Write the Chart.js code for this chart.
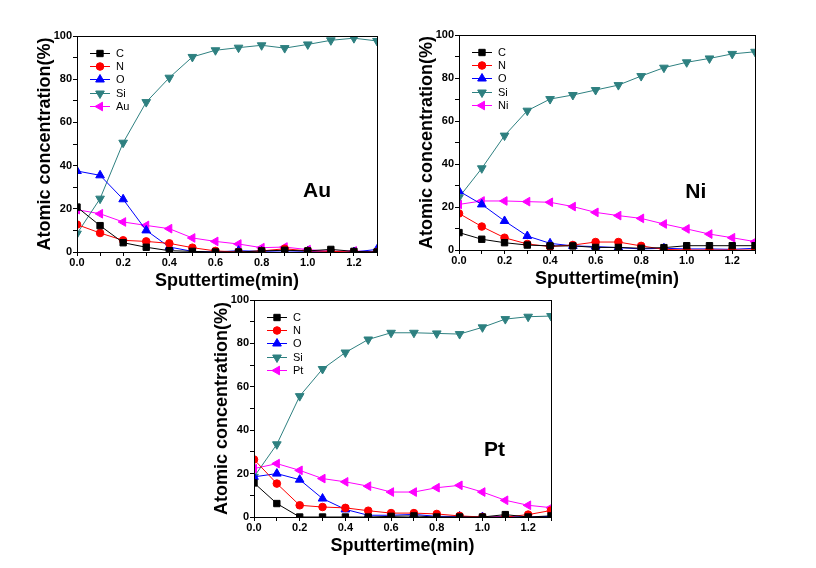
<!DOCTYPE html>
<html><head><meta charset="utf-8">
<script src="https://cdn.jsdelivr.net/npm/chart.js@4/dist/chart.umd.min.js"></script>
<style>
html,body{margin:0;padding:0;background:#fff;width:816px;height:568px;overflow:hidden;}
.panel{position:absolute;}
canvas{display:block;}
</style></head><body>
<div class="panel" id="pAu"><canvas id="cAu"></canvas></div>
<div class="panel" id="pNi"><canvas id="cNi"></canvas></div>
<div class="panel" id="pPt"><canvas id="cPt"></canvas></div>
<script>
// ---- data ----
const times = [0.0,0.1,0.2,0.3,0.4,0.5,0.6,0.7,0.8,0.9,1.0,1.1,1.2,1.3];
const elementNames = ['C','N','O','Si'];
const xTickLabels = ['0.0','0.2','0.4','0.6','0.8','1.0','1.2'];
const yTickLabels = [0,20,40,60,80,100];

// Au sample
const auC  = [20.8,12.2,4.3,2.2,0.6,0.3,0,0,0.5,0.8,0.5,1.2,0.3,0];
const auN  = [12.7,8.8,5.4,4.9,4.0,2.0,0.5,0,0.5,1.5,0.5,0.3,0,0];
const auO  = [37.5,35.5,24.4,10.0,2.3,0.3,0,0.6,0.3,0.5,0.3,0,0,1.2];
const auSi = [8.5,24.7,50.6,69.4,80.7,90.3,93.4,94.6,95.7,94.4,96.1,98.0,99.0,97.7];
const auAu = [19.6,17.7,13.9,12.3,10.8,6.5,4.9,3.7,2.0,2.3,1.1,0.3,0.5,0];

// Ni sample
const niC  = [8.1,5.0,3.4,2.3,1.9,1.9,1.2,1.2,0.8,1.1,2.0,2.0,2.0,2.0];
const niN  = [17.0,10.9,5.7,2.8,1.6,2.3,3.7,3.7,1.9,0.3,0,0,0,0];
const niO  = [27.4,21.2,13.5,6.5,3.1,1.9,1.6,1.1,0.5,0.8,0.5,0.5,0.3,0.8];
const niSi = [24.5,38.0,53.2,64.8,70.2,72.1,74.4,76.7,80.9,84.8,87.3,89.1,91.2,92.2];
const niNi = [21.2,22.8,22.8,22.5,22.2,20.2,17.5,16.0,14.7,12.1,9.8,7.4,5.7,3.9];

// Pt sample
const ptC  = [15.7,6.2,0,0,0,0,0.3,0.5,0,0,0,1.1,0,0.5];
const ptN  = [26.5,15.4,5.4,4.6,4.2,2.9,1.8,1.8,1.4,0.5,0,0,1.1,3.0];
const ptO  = [18.5,20.0,17.2,8.5,3.5,0.8,0.8,1.2,0.3,0.3,0,0.3,0,0.3];
const ptSi = [18.5,33.5,55.7,68.2,75.8,81.8,84.9,84.9,84.6,84.3,87.4,91.2,92.3,92.6];
const ptPt = [22.3,24.6,21.5,17.7,16.2,14.2,11.5,11.5,13.5,14.6,11.5,7.7,5.4,4.3];

// ---- styles ----
const seriesStyles = [
  {color:'#000000', pointStyle:'rect', radius:4.5, rotation:0},
  {color:'#FF0000', pointStyle:'circle', radius:3.8, rotation:0},
  {color:'#0000FF', pointStyle:'triangle', radius:5, rotation:0},
  {color:'#2E8080', pointStyle:'triangle', radius:5, rotation:180},
  {color:'#FF00FF', pointStyle:'triangle', radius:5, rotation:270}
];
const FONT = '"Liberation Sans", Arial, sans-serif';

const decor = {
  id:'decor',
  afterDatasetsDraw(chart){
    const {ctx, chartArea:a} = chart;
    const metal = chart.options.plugins.decor.metal;
    ctx.save();
    ctx.strokeStyle='#000'; ctx.lineWidth=1;
    ctx.strokeRect(Math.round(a.left)+0.5, Math.round(a.top)+0.5, Math.round(a.right-a.left), Math.round(a.bottom-a.top));
    chart.data.datasets.forEach((ds,i)=>{
      const y = Math.round(a.top + 17 + i*13.2);
      ctx.strokeStyle = ds.borderColor; ctx.fillStyle = ds.backgroundColor; ctx.lineWidth = 1;
      ctx.beginPath(); ctx.moveTo(a.left+13, y+0.5); ctx.lineTo(a.left+33, y+0.5); ctx.stroke();
      Chart.helpers.drawPoint(ctx, {pointStyle: ds.pointStyle, rotation: ds.pointRotation, radius: ds.pointRadius, borderWidth: 1}, a.left+23, y+0.5);
      ctx.fillStyle='#000'; ctx.font = '11px ' + FONT; ctx.textBaseline='middle'; ctx.textAlign='left';
      ctx.fillText(ds.label, a.left+39, y+0.5);
    });
    const pos = chart.options.plugins.decor.labelPos;
    ctx.font = 'bold 21px ' + FONT; ctx.textAlign='center'; ctx.textBaseline='middle'; ctx.fillStyle='#000';
    ctx.fillText(metal, a.left + pos[0]*(a.right-a.left), a.top + pos[1]*(a.bottom-a.top));
    ctx.restore();
  }
};

function makePanel(divId, canvasId, metal, series, geom, labelPos){
  const div = document.getElementById(divId);
  const cv = document.getElementById(canvasId);
  const W = 77 + geom.w + 12, H = 30 + geom.h + 45;
  div.style.left = (geom.left - 77) + 'px';
  div.style.top = (geom.top - 30) + 'px';
  cv.width = W; cv.height = H; cv.style.width = W+'px'; cv.style.height = H+'px';
  const labels = elementNames.concat([metal]);
  const datasets = series.map((vals,i)=>{
    const s = seriesStyles[i];
    return {
      label: labels[i],
      data: times.map((t,j)=>({x:t, y:vals[j]})),
      borderColor: s.color, backgroundColor: s.color,
      borderWidth: 1, pointStyle: s.pointStyle, pointRadius: s.radius,
      pointRotation: s.rotation, pointBorderWidth: 1, tension: 0
    };
  });
  new Chart(cv, {
    type:'line',
    data:{datasets},
    plugins:[decor],
    options:{
      responsive:false, animation:false, devicePixelRatio:1,
      layout:{padding:{top:30,right:12,bottom:0,left:0}},
      plugins:{legend:{display:false}, tooltip:{enabled:false}, decor:{metal, labelPos}},
      scales:{
        x:{
          type:'linear', min:0, max:1.3,
          afterFit(s){ s.height = 45; },
          border:{display:true,color:'#000',width:1},
          grid:{drawOnChartArea:false, drawTicks:true, tickLength:4, color:'#000'},
          ticks:{stepSize:0.1, autoSkip:false, maxRotation:0, padding:0, color:'#000',
            font:{family:FONT, size:11, weight:'bold'},
            callback(v){ const k = Math.round(v*10); return (k%2===0) ? xTickLabels[k/2] : ''; }},
          title:{display:true, text:'Sputtertime(min)', color:'#000',
            font:{family:FONT, size:18, weight:'bold'}, padding:{top:0,bottom:5}}
        },
        y:{
          type:'linear', min:0, max:100,
          afterFit(s){ s.width = 77; },
          border:{display:true,color:'#000',width:1},
          grid:{drawOnChartArea:false, drawTicks:true, tickLength:4, color:'#000'},
          ticks:{stepSize:10, padding:1, color:'#000',
            font:{family:FONT, size:11, weight:'bold'},
            callback(v){ const k = Math.round(v); return (k%20===0) ? String(yTickLabels[k/20]) : ''; }},
          title:{display:true, text:'Atomic concentration(%)', color:'#000',
            font:{family:FONT, size:18, weight:'bold'}, padding:{top:34,bottom:0}}
        }
      }
    }
  });
}

makePanel('pAu','cAu','Au',[auC,auN,auO,auSi,auAu],{left:77,top:36,w:300,h:216},[0.80,0.72]);
makePanel('pNi','cNi','Ni',[niC,niN,niO,niSi,niNi],{left:459,top:35,w:296,h:215},[0.80,0.73]);
makePanel('pPt','cPt','Pt',[ptC,ptN,ptO,ptSi,ptPt],{left:254,top:300,w:297,h:217},[0.81,0.69]);
</script>
</body></html>
